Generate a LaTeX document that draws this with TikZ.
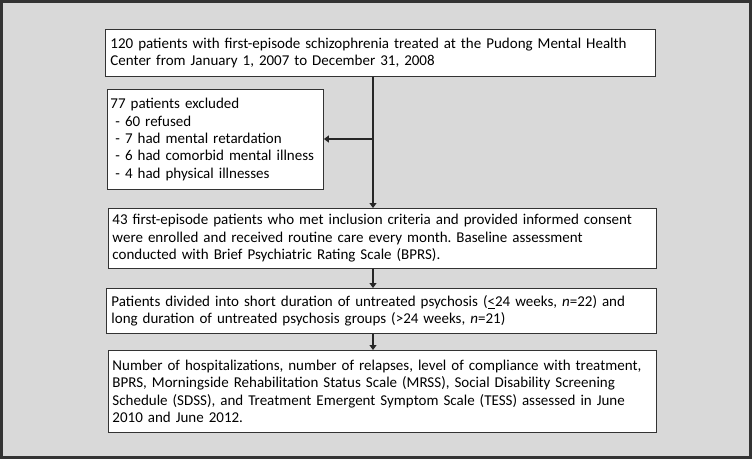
\documentclass[tikz,border=0pt]{standalone}
\usepackage{fontspec}
\setmainfont{Carlito}
\usetikzlibrary{arrows.meta}
\frenchspacing

\begin{document}
\begin{tikzpicture}[x=1pt, y=-1pt,
    box/.style={draw=black!80, fill=white, line width=0.9pt, anchor=north west,
        align=left, inner sep=0pt, font=\fontsize{15}{17.4}\selectfont},
    arr/.style={-{Triangle[width=7pt, length=5pt]}, line width=1.1pt, draw=black!85}]
                % Frame
                \useasboundingbox (0,0) rectangle (752,459);
                \draw[line width=3pt, draw=black!80, fill=black!15] (1.5,1.5) rectangle (750.5,457.5);
                
                % Nodes
                \node[box, text width=540pt, minimum width=550pt, minimum height=47pt] (start) at (105,29)
                    {120 patients with first-episode schizophrenia treated at the Pudong Mental Health\\
                     Center from January 1, 2007 to December 31, 2008};
                \node[box, text width=210pt, minimum width=216pt, minimum height=100pt] (excl) at (107,89)
                    {77 patients excluded\\
                     \ - 60 refused\\
                     \ - 7 had mental retardation\\
                     \ - 6 had comorbid mental illness\\
                     \ - 4 had physical illnesses};
                \node[box, text width=540pt, minimum width=548pt, minimum height=60pt] (enrol) at (108,208)
                    {43 first-episode patients who met inclusion criteria and provided informed consent\\
                     were enrolled and received routine care every month. Baseline assessment\\
                     conducted with Brief Psychiatric Rating Scale (BPRS).};
                \node[box, text width=540pt, minimum width=550pt, minimum height=45pt] (groups) at (106,288)
                    {Patients divided into short duration of untreated psychosis (\underline{<}24 weeks, \textit{n}=22) and\\
                     long duration of untreated psychosis groups (>24 weeks, \textit{n}=21)};
                \node[box, text width=540pt, minimum width=548pt, minimum height=82pt] (outcome) at (108,350)
                    {Number of hospitalizations, number of relapses, level of compliance with treatment,\\
                     BPRS, Morningside Rehabilitation Status Scale (MRSS), Social Disability Screening\\
                     Schedule (SDSS), and Treatment Emergent Symptom Scale (TESS) assessed in June\\
                     2010 and June 2012.};
                \coordinate (split) at (373,139);
                
                % Edges
                \draw[line width=1.1pt, draw=black!85] (start.south -| split) -- (split);
                \draw[arr] (split) -- (excl.east |- split);
                \draw[arr] (split) -- (enrol.north -| split);
                \draw[arr] (enrol.south -| split) -- (groups.north -| split);
                \draw[arr] (groups.south -| split) -- (outcome.north -| split);
            \end{tikzpicture}
\end{document}
